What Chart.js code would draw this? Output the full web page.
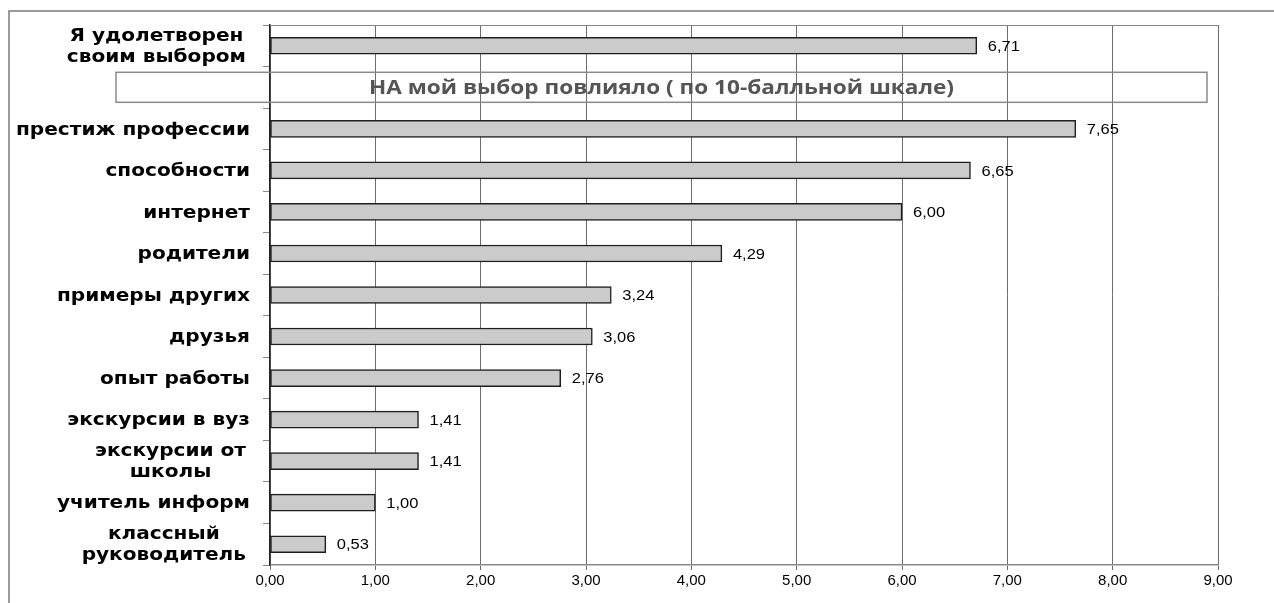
<!DOCTYPE html>
<html>
<head>
<meta charset="utf-8">
<script src="https://cdn.jsdelivr.net/npm/chart.js@4/dist/chart.umd.min.js"></script>
<style>
  html, body { margin: 0; padding: 0; background: #fff; }
  #c { display: block; }
</style>
</head>
<body>
<canvas id="c" width="1274" height="603"></canvas>
<script>
// ---- data ----
const categories = [
  ["Я удолетворен", "своим выбором"],
  "",
  "престиж профессии",
  "способности",
  "интернет",
  "родители",
  "примеры других",
  "друзья",
  "опыт работы",
  "экскурсии в вуз",
  ["экскурсии от", "школы"],
  "учитель информ",
  ["классный", "руководитель"]
];
const values = [6.71, null, 7.65, 6.65, 6.00, 4.29, 3.24, 3.06, 2.76, 1.41, 1.41, 1.00, 0.53];
const sectionTitle = "НА мой выбор повлияло ( по 10-балльной шкале)";
const sectionIndex = 1;
const xMin = 0, xMax = 9, xStep = 1;

const fmt = v => Number(v).toFixed(2).replace('.', ',');

function drawStretched(ctx, text, x, y, sx) {
  ctx.save();
  ctx.translate(x, y);
  ctx.scale(sx, 1);
  ctx.fillText(text, 0, 0);
  ctx.restore();
}

const decor = {
  id: 'decor',
  beforeDraw(chart) {
    const ctx = chart.ctx;
    ctx.save();
    ctx.fillStyle = '#fff';
    ctx.fillRect(0, 0, chart.width, chart.height);
    ctx.strokeStyle = '#7a7a7a';
    ctx.lineWidth = 1.5;
    ctx.beginPath();
    ctx.moveTo(9, chart.height);
    ctx.lineTo(9, 11);
    ctx.lineTo(chart.width, 11);
    ctx.stroke();
    ctx.restore();
  },
  afterDatasetsDraw(chart) {
    const ctx = chart.ctx;
    const ys = chart.scales.y;
    const area = chart.chartArea;
    // top border of plot area
    ctx.save();
    ctx.strokeStyle = '#888';
    ctx.lineWidth = 1;
    ctx.beginPath();
    ctx.moveTo(area.left, area.top + 0.5);
    ctx.lineTo(area.right, area.top + 0.5);
    ctx.stroke();

    // section box
    const yc = ys.getPixelForValue(sectionIndex);
    ctx.strokeStyle = '#8a8a8a';
    ctx.lineWidth = 1.5;
    ctx.strokeRect(116, yc - 15, 1207 - 116, 30);
    ctx.fillStyle = '#555';
    ctx.font = 'bold 19.5px "Open Sans"';
    ctx.textAlign = 'center';
    ctx.textBaseline = 'middle';
    const tw = ctx.measureText(sectionTitle).width;
    drawStretched(ctx, sectionTitle, (116 + 1207) / 2, yc + 1, 585 / tw);

    // value labels
    const meta = chart.getDatasetMeta(0);
    ctx.fillStyle = '#000';
    ctx.font = '15px "Liberation Sans"';
    ctx.textAlign = 'left';
    ctx.textBaseline = 'middle';
    meta.data.forEach((bar, i) => {
      if (values[i] == null) return;
      drawStretched(ctx, fmt(values[i]), bar.x + 11, bar.y + 1, 1.1);
    });

    // category labels
    ctx.font = 'bold 18px "DejaVu Sans"';
    ctx.fillStyle = '#000';
    const refW = ctx.measureText("престиж профессии").width;
    const sx = 234 / refW;
    const rightEdge = 250;
    categories.forEach((lab, i) => {
      const lines = Array.isArray(lab) ? lab : [lab];
      if (!lines[0]) return;
      const y0 = ys.getPixelForValue(i);
      const widths = lines.map(l => ctx.measureText(l).width * sx);
      const bw = Math.max(...widths);
      const lh = 21;
      lines.forEach((l, k) => {
        const y = y0 + 1 + (k - (lines.length - 1) / 2) * lh;
        if (lines.length === 1) {
          ctx.textAlign = 'right';
          drawStretched(ctx, l, rightEdge, y, sx);
        } else {
          ctx.textAlign = 'center';
          drawStretched(ctx, l, rightEdge - 4 - bw / 2, y, sx);
        }
      });
    });
    ctx.restore();
  }
};

new Chart(document.getElementById('c'), {
  type: 'bar',
  data: {
    labels: categories,
    datasets: [{
      data: values,
      backgroundColor: '#cbcbcb',
      borderColor: '#1e1e1e',
      borderWidth: 1.5,
      borderSkipped: false,
      barThickness: 17
    }]
  },
  options: {
    indexAxis: 'y',
    responsive: false,
    animation: false,
    events: [],
    layout: { padding: { left: 0, top: 25, right: 56, bottom: 0 } },
    plugins: { legend: { display: false }, tooltip: { enabled: false } },
    scales: {
      x: {
        type: 'linear',
        min: xMin, max: xMax,
        afterFit(scale) { scale.height = 38; },
        ticks: {
          stepSize: xStep,
          callback: v => fmt(v),
          color: '#000',
          font: { family: '"Liberation Sans"', size: 15 },
          padding: 2,
          maxRotation: 0
        },
        grid: { color: '#6e6e6e', lineWidth: 1, tickLength: 5, drawTicks: true },
        border: { color: '#8a8a8a', width: 1.5 }
      },
      y: {
        type: 'category',
        afterFit(scale) { scale.width = 270; },
        ticks: { display: false },
        grid: { drawOnChartArea: false, drawTicks: true, tickLength: 7, offset: true, color: '#8a8a8a' },
        border: { color: '#222', width: 1.5 }
      }
    }
  },
  plugins: [decor]
});
</script>
</body>
</html>
